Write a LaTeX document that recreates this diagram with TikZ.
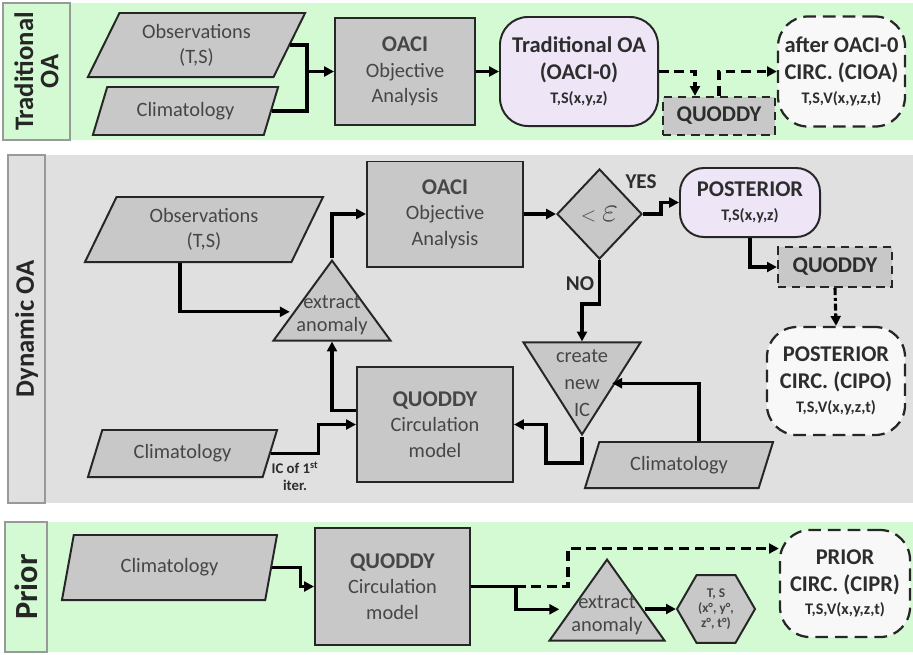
\documentclass[tikz,border=0pt]{standalone}
\usepackage{fontspec}
\setmainfont{Carlito}
\usetikzlibrary{shapes.geometric,arrows.meta,calc}
\definecolor{bandgreen}{RGB}{212,250,212}
\definecolor{bandgray}{RGB}{224,224,224}
\definecolor{boxgray}{RGB}{200,200,200}
\definecolor{lavender}{RGB}{238,230,246}
\definecolor{circwhite}{RGB}{248,248,248}
\definecolor{inktext}{RGB}{70,70,70}
\definecolor{inkbold}{RGB}{45,45,45}
\newcommand{\tritext}[2][-7pt]{\smash{\makebox[0pt]{\raisebox{#1}{\fontsize{14.5}{16}\selectfont\begin{tabular}{@{}c@{}}#2\end{tabular}}}}}
\begin{document}
\begin{tikzpicture}[x=0.025cm,y=-0.025cm,
  font=\fontsize{14.5}{18}\selectfont,
  every node/.style={text=inktext, align=center, inner sep=1pt},
  bandlabel/.style={draw=black!40, line width=0.8pt, rotate=90, text=black!85,
    font=\fontsize{19}{21}\selectfont\bfseries},
  databox/.style={trapezium, trapezium left angle=55, trapezium right angle=125,
    trapezium stretches body, draw=black!85, line width=1.4pt, fill=boxgray},
  procbox/.style={rectangle, draw=black!85, line width=1.4pt, fill=boxgray},
  resbox/.style={rectangle, rounded corners=0.7cm, draw=black!85, line width=1.4pt,
    fill=lavender, text=inkbold, font=\fontsize{16}{19}\selectfont\bfseries},
  circbox/.style={rectangle, rounded corners=0.75cm, draw=black!85, line width=1.6pt,
    dash pattern=on 9pt off 5pt, fill=circwhite, text=inkbold,
    font=\fontsize{16}{19}\selectfont\bfseries},
  runbox/.style={rectangle, draw=black!85, line width=1.6pt, dash pattern=on 6pt off 4pt,
    fill=boxgray, text=inkbold, font=\fontsize{16}{19}\selectfont\bfseries},
  uptri/.style={isosceles triangle, isosceles triangle stretches, shape border rotate=90,
    draw=black!85, line width=1.4pt, fill=boxgray, inner sep=0pt, anchor=apex},
  downtri/.style={uptri, shape border rotate=-90},
  line/.style={line width=2.2pt},
  flow/.style={line, -{Triangle[length=7pt,width=7pt]}},
  dflow/.style={flow, dash pattern=on 7pt off 4pt},
  tag/.style={font=\fontsize{15}{16}\selectfont\bfseries, text=inkbold}]
\useasboundingbox (0,0) rectangle (913,654);
\fill[bandgreen] (3,3) rectangle (913,140);
\fill[bandgray] (8,155) rectangle (913,503);
\fill[bandgreen] (5,522) rectangle (913,652);
\node[bandlabel, fill=bandgreen, minimum width=3.425cm, minimum height=1.675cm] (labA) at (36.5,71.5) {Traditional\\[-3pt]OA};
\node[bandlabel, fill=bandgray, minimum width=8.7cm, minimum height=0.925cm] (labB) at (26.5,329) {Dynamic OA};
\node[bandlabel, fill=bandgreen, minimum width=3.25cm, minimum height=1.05cm, font=\fontsize{23}{25}\selectfont\bfseries] (labP) at (26,587) {Prior};

\node[databox, minimum width=5.43cm, minimum height=1.6cm] (obsA) at (196.5,45) {Observations\\(T,S)};
\node[databox, minimum width=4.63cm, minimum height=1.2cm] (climA) at (185.5,111) {Climatology};
\node[procbox, minimum width=3.5cm, minimum height=2.675cm] (oaciA) at (405,71.5) {\textbf{\fontsize{16}{18}\selectfont OACI}\\Objective\\Analysis};
\node[resbox, minimum width=3.95cm, minimum height=2.725cm] (tradA) at (579,71.5) {Traditional OA\\(OACI-0)\\[-2pt]{\fontsize{11.5}{13}\selectfont T,S(x,y,z)}};
\node[runbox, minimum width=2.8cm, minimum height=0.95cm] (qA) at (719,116) {QUODDY};
\node[circbox, minimum width=3.175cm, minimum height=2.75cm] (cioa) at (841.5,71.5) {after OACI-0\\CIRC. (CIOA)\\[-2pt]{\fontsize{11.5}{13}\selectfont T,S,V(x,y,z,t)}};
\coordinate (mergeA) at (307,71.5);
\draw[line] (obsA.east) -| (mergeA);
\draw[line] (climA.east) -| (mergeA);
\draw[flow] (mergeA) -- (oaciA.west);
\draw[flow] (oaciA.east) -- (tradA.west);
\draw[dflow] (tradA.east) -| ([xshift=-0.6cm]qA.north);
\draw[dflow] (qA.north) |- (cioa.west);

\node[databox, minimum width=5.95cm, minimum height=1.625cm] (obsB) at (204,229.5) {Observations\\(T,S)};
\node[uptri, minimum width=2.925cm, minimum height=2cm] (exB) at (332,258) {\tritext{extract\\anomaly}};
\node[procbox, minimum width=3.9cm, minimum height=2.625cm] (oaciB) at (445,214) {\textbf{\fontsize{16}{18}\selectfont OACI}\\Objective\\Analysis};
\node[diamond, draw=black!85, line width=1.4pt, fill=boxgray, minimum width=2.125cm, minimum height=2.25cm, inner sep=0pt] (dia) at (599.5,214) {$<\;$\fontsize{24}{24}\selectfont$\varepsilon$};
\node[resbox, rounded corners=0.6cm, minimum width=3.5cm, minimum height=1.725cm] (postB) at (750,202.5) {POSTERIOR\\[-2pt]{\fontsize{11.5}{13}\selectfont T,S(x,y,z)}};
\node[runbox, minimum width=2.85cm, minimum height=1cm] (qB) at (835,267) {QUODDY};
\node[circbox, minimum width=3.45cm, minimum height=2.7cm] (cipo) at (836,381) {POSTERIOR\\CIRC. (CIPO)\\[-2pt]{\fontsize{11.5}{13}\selectfont T,S,V(x,y,z,t)}};
\node[downtri, minimum width=2.925cm, minimum height=2.3cm] (icB) at (582,437) {\tritext[-11pt]{create\\[3pt]new\\[3pt]IC}};
\node[procbox, minimum width=3.9cm, minimum height=2.875cm] (quodB) at (435,424.5) {\textbf{\fontsize{16}{18}\selectfont QUODDY}\\Circulation\\model};
\node[databox, minimum width=4.725cm, minimum height=1.175cm] (climB1) at (182.5,453.5) {Climatology};
\node[databox, minimum width=4.7cm, minimum height=1.15cm] (climB2) at (679,465) {Climatology};
\node[tag] (yesL) at (641,182) {YES};
\node[tag] (noL) at (580,284) {NO};
\node[font=\fontsize{10.5}{11.5}\selectfont\bfseries, text=inkbold] (icL) at (295,476) {IC of 1\textsuperscript{st}\\iter.};
\draw[flow, shorten >=0.3cm] ([xshift=-0.6cm]obsB.south) |- ([yshift=-0.3cm]exB.left side);
\draw[flow] (exB.apex) |- (oaciB.west);
\draw[flow] (oaciB.east) -- (dia.west);
\draw[flow] (dia.east) -- ++(0.45cm,0) |- (postB.west);
\draw[flow] (postB.south) |- (qB.west);
\draw[flow, dash pattern=on 5pt off 2pt on 2pt off 2pt] (qB.south) -- (cipo.north);
\draw[flow] (dia.south) -- ++(0,-1.1cm) -| (icB.lower side);
\draw[flow] ([xshift=0.5cm]climB2.north) |- ([yshift=0.15cm]icB.left side);
\draw[flow] (icB.apex) -- ++(0,-0.65cm) -| ([xshift=0.8cm]quodB.east) -- (quodB.east);
\draw[flow] ([yshift=0.35cm]quodB.west) -| (exB.lower side);
\draw[flow] (climB1.east) -- ++(1.2cm,0) |- (quodB.west);

\node[databox, trapezium left angle=60, trapezium right angle=120, minimum width=5.375cm, minimum height=1.625cm] (climP) at (169.5,567.5) {Climatology};
\node[procbox, minimum width=3.875cm, minimum height=2.925cm] (quodP) at (392.5,586.5) {\textbf{\fontsize{16}{18}\selectfont QUODDY}\\Circulation\\model};
\node[uptri, minimum width=2.875cm, minimum height=2.025cm] (exP) at (607,557) {\tritext{extract\\anomaly}};
\node[regular polygon, regular polygon sides=6, draw=black!85, line width=1.4pt, fill=boxgray, minimum size=1.95cm, inner sep=0pt, font=\fontsize{9.5}{10.5}\selectfont\bfseries] (hexP) at (716,609) {T, S\\(x°, y°,\\z°, t°)};
\node[circbox, minimum width=3.25cm, minimum height=2.675cm] (cipr) at (845,583.5) {PRIOR\\CIRC. (CIPR)\\[-2pt]{\fontsize{11.5}{13}\selectfont T,S,V(x,y,z,t)}};
\coordinate (splitP) at ([xshift=1.125cm]quodP.east);
\draw[flow] (climP.east) -- ++(0.7cm,0) |- (quodP.west);
\draw[line] (quodP.east) -- (splitP);
\draw[flow, shorten >=0.45cm] (splitP) |- ([yshift=-0.25cm]exP.left side);
\draw[dflow] (splitP) -- ++(1.3cm,0) |- ([yshift=0.875cm]cipr.west);
\draw[flow, shorten <=0.2cm] (exP.right side |- hexP.west) -- (hexP.west);
\end{tikzpicture}
\end{document}
